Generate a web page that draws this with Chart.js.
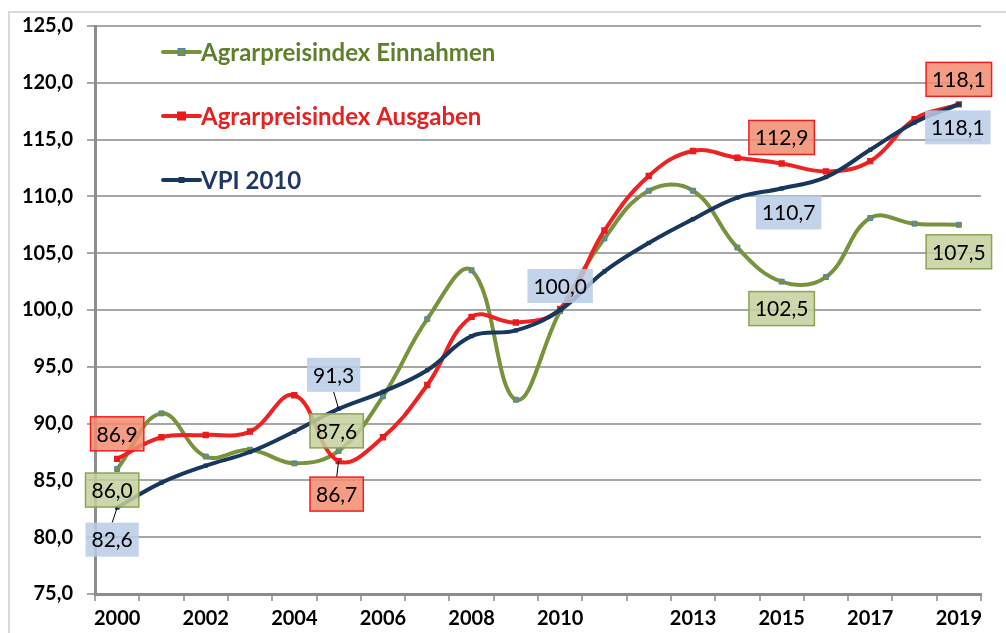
<!DOCTYPE html>
<html>
<head>
<meta charset="utf-8">
<script src="https://cdn.jsdelivr.net/npm/chart.js@4.4.1/dist/chart.umd.min.js"></script>
<style>
body{margin:0;background:#fff}
#wrap{position:relative;width:1006px;height:633px}
</style>
</head>
<body>
<div id="wrap"><canvas id="myChart" width="1006" height="633"></canvas></div>
<script>
var years = ['2000','2001','2002','2003','2004','2005','2006','2007','2008','2009',
             '2010','2011','2012','2013','2014','2015','2016','2017','2018','2019']
var shownYears = ['2000','2002','2004','2006','2008','2010','2013','2015','2017','2019']
var einnahmen = [86.0, 90.9, 87.1, 87.7, 86.5, 87.6, 92.4, 99.2, 103.5, 92.1,
                 99.9, 106.3, 110.5, 110.5, 105.5, 102.5, 102.9, 108.1, 107.6, 107.5]
var ausgaben  = [86.9, 88.8, 89.0, 89.3, 92.5, 86.7, 88.8, 93.4, 99.4, 98.9,
                 100.1, 107.0, 111.8, 114.0, 113.4, 112.9, 112.2, 113.1, 116.8, 118.1]
var vpi       = [82.6, 84.8, 86.3, 87.5, 89.3, 91.3, 92.8, 94.7, 97.7, 98.2,
                 100.0, 103.4, 105.9, 108.0, 109.9, 110.7, 111.7, 114.1, 116.5, 118.1]

function komma(v){ return v.toFixed(1).replace('.', ',') }

// which points get a value box, and where the box sits relative to the point
var boxes = [
  { fill:'rgba(196,208,158,0.85)', stroke:'#8CA352', items:[
      {i:0, dx:-5, dy:21}, {i:5, dx:-2, dy:-20}, {i:15, dx:0, dy:27}, {i:19, dx:0, dy:27}]},
  { fill:'rgba(242,140,110,0.85)', stroke:'#F02020', items:[
      {i:0, dx:0, dy:-25}, {i:5, dx:-2, dy:33, lead:true}, {i:15, dx:0, dy:-26}, {i:19, dx:0, dy:-25}]},
  { fill:'rgba(184,204,230,0.85)', stroke:null, items:[
      {i:0, dx:-5, dy:32, lead:true}, {i:5, dx:-5, dy:-34, lead:true}, {i:10, dx:0, dy:-24},
      {i:15, dx:7, dy:24}, {i:19, dx:-1, dy:23}]}
]
var legendText = ['#5F7F2A', '#E52222', '#1F3864']

var framePlugin = {
  id:'frame',
  beforeDraw: function(chart){
    var c = chart.ctx
    c.save()
    c.fillStyle = '#fff'
    c.fillRect(0, 0, chart.width, chart.height)
    c.strokeStyle = '#D9D9D9'
    c.lineWidth = 2
    c.strokeRect(9, 12, 1100, 700)
    c.restore()
  }
}

var boxPlugin = {
  id:'boxes',
  afterDatasetsDraw: function(chart){
    var c = chart.ctx
    c.save()
    c.font = '21px Lato'
    c.textAlign = 'center'
    c.textBaseline = 'middle'
    boxes.forEach(function(b, ds){
      var meta = chart.getDatasetMeta(ds)
      var vals = chart.data.datasets[ds].data
      b.items.forEach(function(it){
        var p = meta.data[it.i]
        var txt = komma(vals[it.i])
        var w = c.measureText(txt).width + 12, h = 34
        var cx = p.x + it.dx, cy = p.y + it.dy
        if (it.lead) {
          c.strokeStyle = '#000'
          c.lineWidth = 1
          c.beginPath()
          c.moveTo(p.x, p.y)
          c.lineTo(cx, it.dy > 0 ? cy - h/2 : cy + h/2)
          c.stroke()
        }
        c.fillStyle = b.fill
        c.fillRect(cx - w/2, cy - h/2, w, h)
        if (b.stroke) {
          c.strokeStyle = b.stroke
          c.lineWidth = 1.5
          c.strokeRect(cx - w/2, cy - h/2, w, h)
        }
        c.fillStyle = '#000'
        c.fillText(txt, cx, cy + 1)
      })
    })
    c.restore()
  }
}

var legendPlugin = {
  id:'myLegend',
  afterDraw: function(chart){
    var c = chart.ctx, a = chart.chartArea
    c.save()
    c.font = 'bold 24px Lato'
    c.textBaseline = 'middle'
    chart.data.datasets.forEach(function(ds, k){
      var y = a.top + 26 + k*64
      var x0 = a.left + 68, x1 = x0 + 37
      c.strokeStyle = ds.borderColor
      c.lineWidth = ds.borderWidth
      c.lineCap = 'round'
      c.beginPath(); c.moveTo(x0, y); c.lineTo(x1, y); c.stroke()
      var r = ds.pointRadius
      c.fillStyle = ds.pointBackgroundColor
      c.fillRect((x0+x1)/2 - r, y - r, 2*r, 2*r)
      if (ds.pointBorderWidth) {
        c.strokeStyle = ds.pointBorderColor
        c.lineWidth = ds.pointBorderWidth
        c.strokeRect((x0+x1)/2 - r, y - r, 2*r, 2*r)
      }
      c.fillStyle = legendText[k]
      c.fillText(ds.label, x1 + 1, y + 1)
    })
    c.restore()
  }
}

new Chart(document.getElementById('myChart'), {
  type:'line',
  data:{
    labels: years,
    datasets:[
      { label:'Agrarpreisindex Einnahmen', data:einnahmen, order:3,
        borderColor:'#77933C', borderWidth:4, tension:0.4,
        pointStyle:'rect', pointRadius:3.5, pointBackgroundColor:'#77933C',
        pointBorderColor:'#4F81BD', pointBorderWidth:1 },
      { label:'Agrarpreisindex Ausgaben', data:ausgaben, order:2,
        borderColor:'#EE2222', borderWidth:4, tension:0.4,
        pointStyle:'rect', pointRadius:4.5, pointBackgroundColor:'#E81C1C',
        pointBorderColor:'#E81C1C', pointBorderWidth:0 },
      { label:'VPI 2010', data:vpi, order:1,
        borderColor:'#17375E', borderWidth:4, tension:0.4,
        pointStyle:'rect', pointRadius:3, pointBackgroundColor:'#17375E',
        pointBorderColor:'#17375E', pointBorderWidth:0 }
    ]
  },
  options:{
    responsive:false,
    animation:false,
    devicePixelRatio:1,
    layout:{ padding:{ left:0, right:25, top:14, bottom:0 } },
    plugins:{ legend:{display:false}, tooltip:{enabled:false} },
    scales:{
      x:{
        offset:true,
        grid:{ offset:true, drawOnChartArea:false, drawTicks:true, tickLength:7, color:'#A6A6A6', lineWidth:2 },
        border:{ color:'#8C8C8C', width:3 },
        ticks:{ autoSkip:false, maxRotation:0, padding:6, color:'#000',
          font:{ family:'Lato', size:20, weight:'bold' },
          callback:function(v, idx){ return shownYears.indexOf(years[idx]) >= 0 ? years[idx] : '' } },
        afterFit:function(s){ s.height = 39 }
      },
      y:{
        min:75, max:125,
        grid:{ color:'#A6A6A6', lineWidth:2, tickLength:8 },
        border:{ color:'#8C8C8C', width:3 },
        ticks:{ stepSize:5, padding:14, color:'#000',
          font:{ family:'Lato', size:20, weight:'bold' },
          callback:function(v){ return komma(v) } },
        afterFit:function(s){ s.width = 95 }
      }
    }
  },
  plugins:[framePlugin, boxPlugin, legendPlugin]
})
</script>
</body>
</html>
